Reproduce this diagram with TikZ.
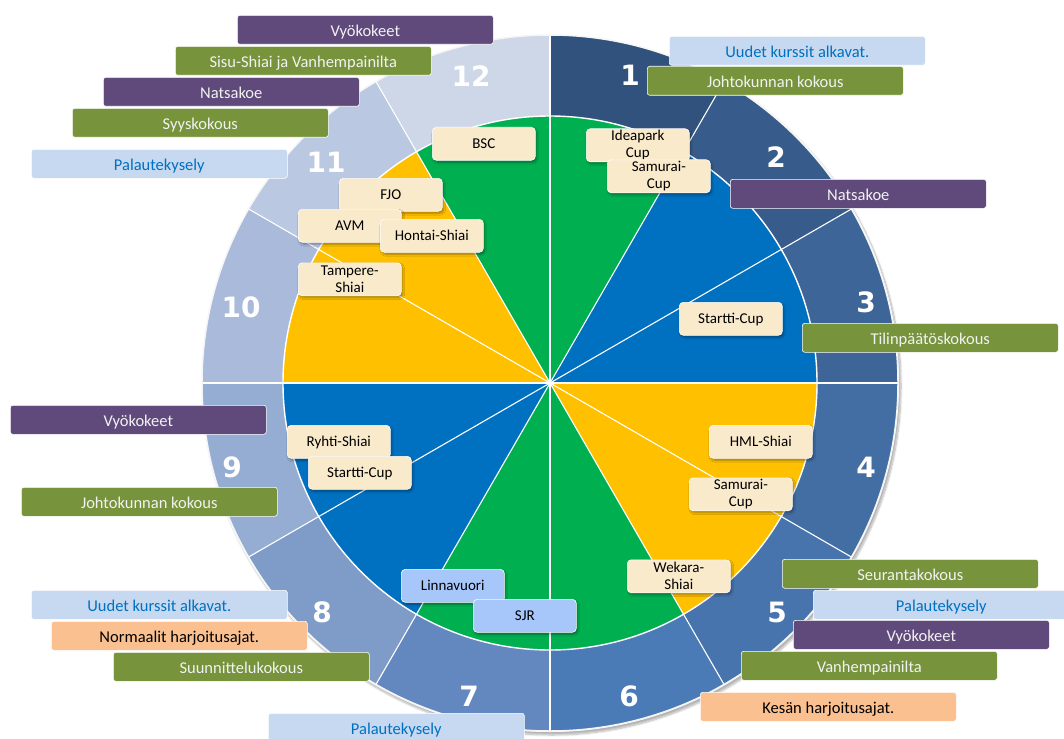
\documentclass[tikz,border=0pt]{standalone}
\usepackage{fontspec}
\setmainfont{Carlito}
\newfontfamily\numfont{DejaVu Sans}
\usetikzlibrary{calc,shadows.blur}
\definecolor{r1}{HTML}{31527C}
\definecolor{r2}{HTML}{375C8B}
\definecolor{r3}{HTML}{3E6597}
\definecolor{r4}{HTML}{436EA3}
\definecolor{r5}{HTML}{4774AD}
\definecolor{r6}{HTML}{4B7BB6}
\definecolor{r7}{HTML}{6388BF}
\definecolor{r8}{HTML}{7F9BC8}
\definecolor{r9}{HTML}{95ADD2}
\definecolor{r10}{HTML}{A9BADA}
\definecolor{r11}{HTML}{BBC8E1}
\definecolor{r12}{HTML}{CED7E7}
\definecolor{pgreen}{HTML}{00B050}
\definecolor{pblue}{HTML}{0070C0}
\definecolor{pyellow}{HTML}{FFC000}
\definecolor{cpurple}{HTML}{604A7B}
\definecolor{cgreen}{HTML}{77933C}
\definecolor{clblue}{HTML}{C6D9F1}
\definecolor{ctblue}{HTML}{0070C0}
\definecolor{corange}{HTML}{FAC090}
\definecolor{cbeige}{HTML}{F9EACB}
\definecolor{cpblue}{HTML}{A7C7FA}
\begin{document}
\begin{tikzpicture}[x=1pt,y=1pt,
  ev/.style={anchor=north west, minimum width=256pt, minimum height=29pt,
    rounded corners=2.5pt, draw=white, line width=0.6pt, inner sep=0pt,
    font=\fontsize{16.5}{18}\selectfont, text height=14pt, text depth=0pt, text=white!95!black},
  evp/.style={ev, fill=cpurple},
  evg/.style={ev, fill=cgreen},
  evb/.style={ev, fill=clblue, text=ctblue},
  evo/.style={ev, fill=corange, text=black},
  cmpbase/.style={anchor=north west, minimum width=103pt, minimum height=33pt,
    rounded corners=4pt, fill=cbeige, draw=white, line width=0.6pt, inner sep=0pt,
    align=center, font=\fontsize{15}{17}\selectfont,
    blur shadow={shadow xshift=1.5pt, shadow yshift=-2pt, shadow blur steps=6, shadow opacity=35}},
  cmp/.style={cmpbase, text height=10pt, text depth=0pt},
  cmptwo/.style={cmpbase, yshift=-1.5pt},
  cmpb/.style={cmp, fill=cpblue},
  num/.style={font=\numfont\bfseries\fontsize{28}{28}\selectfont, text=white}
]
\useasboundingbox (0,0) rectangle (1064,-738);
\coordinate (C) at (550,-383);

% outer disc with shadow
\path[fill=white, blur shadow={shadow xshift=2pt, shadow yshift=-3pt, shadow blur steps=8, shadow opacity=30}]
  (C) circle[radius=349];

% ring segments
\foreach \k/\col in {1/r1,2/r2,3/r3,4/r4,5/r5,6/r6,7/r7,8/r8,9/r9,10/r10,11/r11,12/r12}{
  \pgfmathsetmacro\aa{90-30*(\k-1)}
  \pgfmathsetmacro\ab{90-30*\k}
  \fill[\col] (C) -- ($(C)+(\aa:348)$) arc[start angle=\aa, end angle=\ab, radius=348] -- cycle;
}

% inner pie
\foreach \aa/\ab/\col in {120/60/pgreen, 60/0/pblue, 0/-60/pyellow, -60/-120/pgreen, -120/-180/pblue, 180/120/pyellow}{
  \fill[\col] (C) -- ($(C)+(\aa:267)$) arc[start angle=\aa, end angle=\ab, radius=267] -- cycle;
}

% radial white lines
\foreach \a in {0,30,...,330}{
  \draw[white, line width=1.1pt] (C) -- ($(C)+(\a:348)$);
}
\draw[white, line width=1.4pt] (C) circle[radius=267];
\draw[white!92!gray, line width=1.5pt] (C) circle[radius=348];

% ring numbers
\node[num] (n1) at (630,-75) {1};
\node[num] (n2) at (776,-157) {2};
\node[num] (n3) at (866,-302) {3};
\node[num] (n4) at (866,-467) {4};
\node[num] (n5) at (777,-612) {5};
\node[num] (n6) at (629,-696) {6};
\node[num] (n7) at (469,-696) {7};
\node[num] (n8) at (322,-612) {8};
\node[num] (n9) at (232,-467) {9};
\node[num] (n10) at (241,-307) {10};
\node[num] (n11) at (326,-162) {11};
\node[num] (n12) at (471,-76) {12};

% competitions (inner boxes)
\node[cmp] (bsc) at (432,-127) {BSC};
\node[cmptwo] (idea) at (586,-127) {Ideapark\\Cup};
\node[cmptwo] (samtop) at (607,-158) {Samurai-\\Cup};
\node[cmp] (startr) at (679,-302) {Startti-Cup};
\node[cmp] (hml) at (709,-425) {HML-Shiai};
\node[cmptwo] (samr) at (689,-476) {Samurai-\\Cup};
\node[cmptwo] (wek) at (627,-558) {Wekara-\\Shiai};
\node[cmpb] (linna) at (401,-569) {Linnavuori};
\node[cmpb] (sjr) at (473,-599) {SJR};
\node[cmp] (ryhti) at (287,-425) {Ryhti-Shiai};
\node[cmp] (startl) at (308,-456) {Startti-Cup};
\node[cmptwo] (tamp) at (298,-261) {Tampere-\\Shiai};
\node[cmp] (fjo) at (339,-178) {FJO};
\node[cmp] (avm) at (298,-209) {AVM};
\node[cmp] (hontai) at (380,-219) {Hontai-Shiai};

% events (outer labels)
\node[evp] (e12a) at (237,-15) {Vyökokeet};
\node[evg] (e12b) at (175,-46) {Sisu-Shiai ja Vanhempainilta};
\node[evp] (e11a) at (103,-77) {Natsakoe};
\node[evg] (e11b) at (72,-108) {Syyskokous};
\node[evb] (e11c) at (31,-149) {Palautekysely};

\node[evb] (e1a) at (669,-36) {Uudet kurssit alkavat.};
\node[evg] (e1b) at (647,-66) {Johtokunnan kokous};
\node[evp] (e2a) at (730,-179) {Natsakoe};
\node[evg] (e3a) at (802,-323) {Tilinpäätöskokous};

\node[evg] (e5a) at (782,-559) {Seurantakokous};
\node[evb] (e5b) at (813,-590) {Palautekysely};
\node[evp] (e5c) at (793,-620) {Vyökokeet};
\node[evg] (e5d) at (741,-651) {Vanhempainilta};
\node[evo] (e6a) at (700,-692) {Kesän harjoitusajat.};

\node[evb] (e7a) at (268,-713) {Palautekysely};

\node[evp] (e9a) at (10,-405) {Vyökokeet};
\node[evg] (e9b) at (21,-487) {Johtokunnan kokous};
\node[evb] (e8a) at (31,-590) {Uudet kurssit alkavat.};
\node[evo] (e8b) at (51,-621) {Normaalit harjoitusajat.};
\node[evg] (e8c) at (113,-652) {Suunnittelukokous};
\end{tikzpicture}
\end{document}
